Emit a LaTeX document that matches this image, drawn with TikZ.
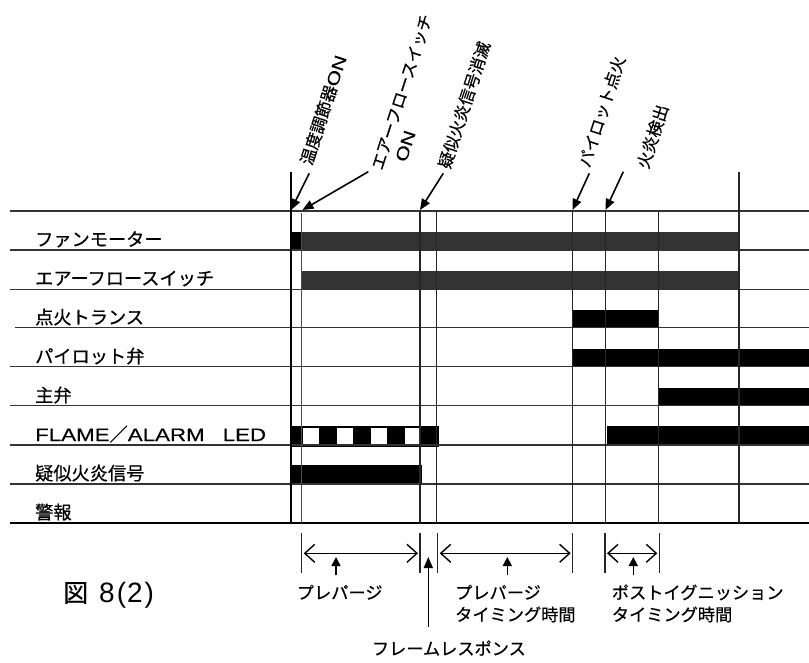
\documentclass[tikz,border=0pt]{standalone}
\usepackage{fontspec}
\setmainfont{Noto Sans CJK JP}[FakeBold=0.5]
\newfontfamily\latinwide{Liberation Sans}[FakeStretch=1.24,FakeBold=0.4]
\newfontfamily\digitfont{Liberation Sans}
\usetikzlibrary{arrows.meta}
\tikzset{
  rowline/.style={draw=black!80, line width=1.4pt},
  vline/.style={draw=black!85, line width=1.3pt},
  lbl/.style={anchor=base west, inner sep=0pt, font=\fontsize{18.2}{18.2}\selectfont},
  blbl/.style={anchor=base west, inner sep=0pt, font=\fontsize{17.2}{17.2}\selectfont},
  toplbl/.style={anchor=center, inner sep=0pt, rotate=72, font=\fontsize{16.5}{16.5}\selectfont},
  ptr/.style={draw=black, line width=1.6pt, -{Triangle[length=11pt,width=9pt]}},
  dimline/.style={draw=black, line width=1.4pt, {Straight Barb[length=10pt,width=18pt]}-{Straight Barb[length=10pt,width=18pt]}},
  uparr/.style={draw=black, line width=1.6pt, -{Triangle[length=9pt,width=9pt]}},
  tick/.style={draw=black!85, line width=1.2pt},
  bargray/.style={fill=black!80},
  barblack/.style={fill=black}
}
\begin{document}
\begin{tikzpicture}[x=1pt,y=-1pt]
\useasboundingbox (0,0) rectangle (809,662);
\fill[white] (0,0) rectangle (809,662);

% bars
\fill[barblack] (291,232.3) rectangle (301.7,250);
\fill[bargray] (301.7,232.3) rectangle (739,250);
\fill[bargray] (301.7,271) rectangle (739,289.3);
\fill[barblack] (572.3,310) rectangle (658.3,328);
\fill[barblack] (572.3,349) rectangle (809,367);
\fill[barblack] (658.3,387.7) rectangle (809,406);
\fill[barblack] (606.7,425.7) rectangle (809,445.5);
\fill[barblack] (291,425.7) rectangle (439,446.5);
\fill[white] (302.7,428.3) rectangle (319.3,444);
\fill[white] (336.7,428.3) rectangle (353.3,444);
\fill[white] (371,428.3) rectangle (387.3,444);
\fill[white] (405.3,428.3) rectangle (420,444);
\fill[barblack] (291,465) rectangle (421.7,484);

% row lines
\draw[rowline] (10,211) -- (809,211);
\draw[rowline] (10,250) -- (809,250);
\draw[rowline] (10,289.3) -- (809,289.3);
\draw[rowline] (15,327.7) -- (809,327.7);
\draw[rowline] (10,366.7) -- (809,366.7);
\draw[rowline] (10,405.7) -- (809,405.7);
\draw[rowline] (10,445) -- (809,445);
\draw[rowline] (10,484) -- (809,484);
\draw[draw=black, line width=2pt] (10,522.7) -- (809,522.7);

% vertical time lines
\draw[draw=black, line width=2pt] (291,172) -- (291,522.7);
\draw[draw=black!70, line width=1.1pt] (301.7,213) -- (301.7,522.7);
\draw[vline] (420,211) -- (420,522.7);
\draw[vline] (436.7,211) -- (436.7,522.7);
\draw[vline] (572.5,211) -- (572.5,522.7);
\draw[vline] (605.3,211) -- (605.3,522.7);
\draw[vline] (658.8,211) -- (658.8,522.7);
\draw[vline] (739,172) -- (739,522.7);

% row labels
\node[lbl] (r1) at (35,246) {ファンモーター};
\node[lbl] (r2) at (35,285) {エアーフロースイッチ};
\node[lbl] (r3) at (35,324) {点火トランス};
\node[lbl] (r4) at (35,363) {パイロット弁};
\node[lbl] (r5) at (35,402) {主弁};
\node[lbl] (r6) at (35,441) {{\latinwide\fontsize{18}{18}\selectfont FLAME}／{\latinwide\fontsize{18}{18}\selectfont ALARM\hspace{18pt}LED}};
\node[lbl] (r7) at (35,480) {疑似火炎信号};
\node[lbl] (r8) at (35,519) {警報};

% top event labels
\node[toplbl] (e1) at (323.3,110) {温度調節器{\latinwide\fontsize{17}{17}\selectfont ON}};
\node[toplbl, align=left, font=\fontsize{16.5}{20}\selectfont] (e2) at (411,95) {エアーフロースイッチ\\\hspace*{15pt}{\latinwide\fontsize{17}{17}\selectfont ON}};
\node[toplbl] (e3) at (464.2,105) {疑似火炎信号消滅};
\node[toplbl] (e4) at (601.7,111.7) {パイロット点火};
\node[toplbl] (e5) at (652.5,136.5) {火炎検出};

\coordinate (t1) at (291,210);
\coordinate (t2) at (302.5,210);
\coordinate (t3) at (420,210);
\coordinate (t4) at (572.5,210);
\coordinate (t5) at (605.5,210);
\coordinate (s1) at (309.3,173.3);
\coordinate (s2) at (368.3,171.7);
\coordinate (s3) at (443.3,173.3);
\coordinate (s4) at (589.3,173.3);
\coordinate (s5) at (623.3,171.7);
\draw[ptr] (s1) -- (t1);
\draw[ptr] (s2) -- (t2);
\draw[ptr] (s3) -- (t3);
\draw[ptr] (s4) -- (t4);
\draw[ptr] (s5) -- (t5);

% bottom dimension marks
\foreach \x/\n in {301.7/d1, 420/d2, 437.7/d3, 572.7/d4, 605/d5, 659.3/d6}{
  \coordinate (\n t) at (\x,533);
  \coordinate (\n b) at (\x,573);
  \coordinate (\n m) at (\x,553.3);
  \draw[tick] (\n t) -- (\n b);
}
\draw[dimline] ([xshift=2pt]d1m) -- ([xshift=-2pt]d2m);
\draw[dimline] ([xshift=2pt]d3m) -- ([xshift=-2pt]d4m);
\draw[dimline] ([xshift=2pt]d5m) -- ([xshift=-2pt]d6m);

\coordinate (u1a) at (336,575);
\coordinate (u1b) at (336,557);
\coordinate (u2a) at (507.3,575);
\coordinate (u2b) at (507.3,557);
\coordinate (u3a) at (633.3,575);
\coordinate (u3b) at (633.3,557);
\draw[uparr] (u1a) -- (u1b);
\draw[uparr] (u2a) -- (u2b);
\draw[uparr] (u3a) -- (u3b);

\coordinate (fra) at (428.3,627);
\coordinate (frb) at (428.3,557);
\draw[ptr] (fra) -- (frb);

\node[blbl] (b1) at (296.7,599) {プレパージ};
\node[blbl] (b2) at (455,599) {プレパージ};
\node[blbl] (b2b) at (455,621) {タイミング時間};
\node[blbl] (b3) at (611.7,599) {ポストイグニッション};
\node[blbl] (b3b) at (611.7,621) {タイミング時間};
\node[blbl] (b4) at (371.7,655) {フレームレスポンス};

\node[anchor=base west, inner sep=0pt] (fig) at (63,602) {{\fontsize{25}{25}\selectfont 図}\hspace{11pt}{\digitfont\fontsize{28}{28}\selectfont 8\hspace{2pt}(\hspace{1pt}2\hspace{2pt})}};
\end{tikzpicture}
\end{document}
